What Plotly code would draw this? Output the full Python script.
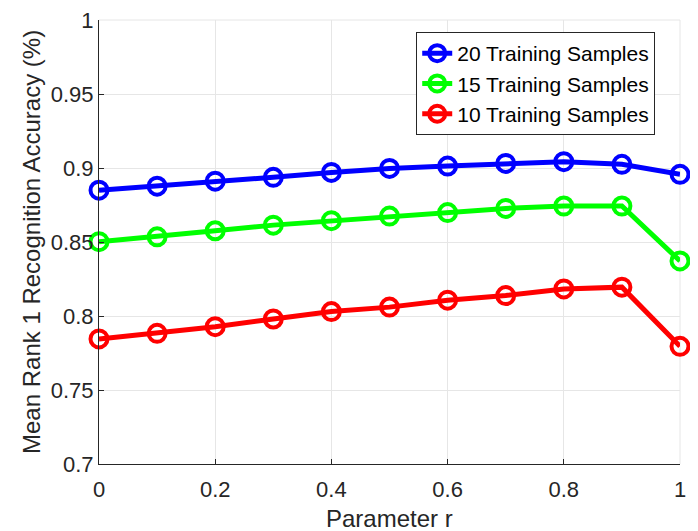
import plotly.graph_objects as go

r_values = [0, 0.1, 0.2, 0.3, 0.4, 0.5, 0.6, 0.7, 0.8, 0.9, 1.0]
acc_20 = [0.885, 0.8877, 0.8911, 0.8937, 0.8970, 0.8997, 0.9013, 0.9031, 0.9043, 0.9025, 0.8957]
acc_15 = [0.8502, 0.8535, 0.8576, 0.8614, 0.8644, 0.8675, 0.8699, 0.8727, 0.8743, 0.8743, 0.8372]
acc_10 = [0.7845, 0.7883, 0.7928, 0.7980, 0.8030, 0.8060, 0.8107, 0.8138, 0.8183, 0.8195, 0.7795]
series_names = ["20 Training Samples", "15 Training Samples", "10 Training Samples"]
series_colors = ["#0000ff", "#00ff00", "#ff0000"]

fig = go.Figure()
for name, vals, col in zip(series_names, [acc_20, acc_15, acc_10], series_colors):
    fig.add_trace(go.Scatter(
        x=r_values, y=vals, name=name, mode="lines+markers",
        line=dict(color=col, width=5),
        marker=dict(symbol="circle-open", size=17, color=col, line=dict(width=4, color=col)),
        cliponaxis=False,
    ))

font_family = "Liberation Sans, Arial, sans-serif"
grid_color = "#e6e6e6"
# The page body has an 8px margin, so the figure is sized/offset to compensate.
fig.update_layout(
    width=690, height=523,
    margin=dict(l=91, r=18, t=12, b=67),
    paper_bgcolor="white", plot_bgcolor="white",
    font=dict(family=font_family, size=22, color="#262626"),
    showlegend=True,
    legend=dict(
        x=0.546, y=0.973, xanchor="left", yanchor="top",
        bordercolor="#262626", borderwidth=1, bgcolor="white",
        font=dict(size=21, color="black"),
        tracegroupgap=0, itemwidth=30,
    ),
    xaxis=dict(
        range=[0, 1.000001], tickvals=[0, 0.2, 0.4, 0.6, 0.8, 1.0],
        ticktext=["0", "0.2", "0.4", "0.6", "0.8", "1"],
        showgrid=True, gridcolor=grid_color, gridwidth=1,
        showline=True, linecolor="#262626", linewidth=1,
        ticks="inside", ticklen=5, tickcolor="#262626",
        ticklabelstandoff=6, ticklabeloverflow="allow",
        zeroline=False, automargin=False,
    ),
    yaxis=dict(
        range=[0.7, 1.000001], tickvals=[0.7, 0.75, 0.8, 0.85, 0.9, 0.95, 1.0],
        ticktext=["0.7", "0.75", "0.8", "0.85", "0.9", "0.95", "1"],
        showgrid=True, gridcolor=grid_color, gridwidth=1,
        showline=True, linecolor="#262626", linewidth=1,
        ticks="inside", ticklen=5, tickcolor="#262626",
        ticklabeloverflow="allow",
        zeroline=False, automargin=False,
    ),
    shapes=[
        dict(type="line", xref="paper", yref="paper", x0=0, x1=1, y0=1, y1=1,
             line=dict(color=grid_color, width=1), layer="below"),
        dict(type="line", xref="paper", yref="paper", x0=1, x1=1, y0=0, y1=1,
             line=dict(color=grid_color, width=1), layer="below"),
    ],
    annotations=[
        dict(text="Parameter r", xref="paper", yref="paper", x=0.5, y=0,
             yshift=-54, xanchor="center", yanchor="middle", showarrow=False,
             font=dict(size=24, color="#262626")),
        dict(text="Mean Rank 1 Recognition Accuracy (%)", xref="paper", yref="paper",
             x=0, y=0.5, xshift=-68, xanchor="center", yanchor="middle", textangle=-90,
             showarrow=False, font=dict(size=24, color="#262626")),
    ],
)

fig.write_html("out.html")
